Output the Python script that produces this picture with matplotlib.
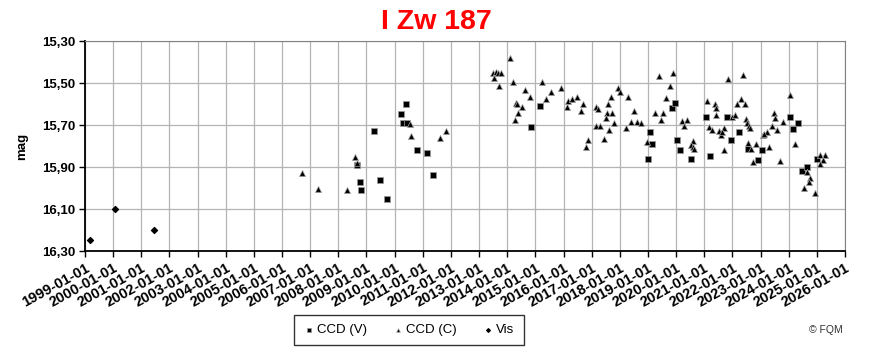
import matplotlib
matplotlib.use("Agg")
import matplotlib.pyplot as plt
import numpy as np

plt.rcParams['font.family'] = ['Liberation Sans', 'DejaVu Sans']

# Datos (epoca en anos decimales, magnitud)
ccd_v_t = [2008.66, 2008.77, 2008.80, 2009.27, 2009.48, 2009.73, 2010.23, 2010.30, 2010.40,
           2010.44, 2010.79, 2011.15, 2011.36, 2014.84, 2015.16, 2019.00, 2019.07, 2019.14,
           2019.85, 2019.96, 2020.03, 2020.14, 2020.53, 2021.06, 2021.20, 2021.81, 2021.95,
           2022.23, 2022.55, 2022.91, 2023.05, 2024.04, 2024.15, 2024.33, 2024.47, 2024.65,
           2025.00]
ccd_v_mag = [15.890, 15.971, 16.010, 15.729, 15.962, 16.052, 15.648, 15.690, 15.600,
             15.690, 15.819, 15.833, 15.938, 15.710, 15.610, 15.862, 15.733, 15.790,
             15.619, 15.595, 15.771, 15.819, 15.862, 15.662, 15.848, 15.662, 15.771,
             15.733, 15.814, 15.867, 15.819, 15.662, 15.719, 15.690, 15.919, 15.900,
             15.862]

ccd_c_t = [2006.71, 2007.28, 2008.31, 2008.59, 2008.66, 2010.55, 2010.58, 2011.61, 2011.82,
           2013.49, 2013.60, 2013.67, 2013.78, 2013.53, 2013.71, 2014.10, 2014.20, 2015.23,
           2014.63, 2014.81, 2015.91, 2015.55, 2015.38, 2014.31, 2014.35, 2014.52, 2014.38,
           2014.28, 2016.16, 2016.30, 2016.48, 2016.12, 2016.69, 2016.62, 2016.87, 2016.80,
           2017.15, 2017.22, 2017.58, 2017.69, 2017.54, 2017.72, 2017.51, 2017.93, 2018.01,
           2018.29, 2017.15, 2017.29, 2017.79, 2017.61, 2017.44, 2018.50, 2018.40, 2018.61,
           2018.75, 2018.22, 2019.39, 2019.89, 2019.78, 2019.64, 2019.25, 2019.53, 2019.46,
           2018.96, 2020.21, 2020.39, 2020.28, 2020.60, 2020.53, 2020.60, 2020.63, 2021.10,
           2021.38, 2021.42, 2021.42, 2021.17, 2021.27, 2021.52, 2021.59, 2021.70, 2021.63,
           2021.70, 2021.84, 2022.37, 2021.98, 2022.09, 2022.16, 2022.30, 2022.45, 2022.48,
           2022.52, 2022.59, 2022.62, 2022.55, 2022.66, 2022.84, 2022.73, 2023.09, 2023.23,
           2023.30, 2024.04, 2023.48, 2023.51, 2023.80, 2023.41, 2023.58, 2023.12, 2024.22,
           2023.69, 2025.11, 2025.29, 2025.22, 2025.11, 2024.65, 2024.75, 2024.72, 2024.54,
           2024.93]
ccd_c_mag = [15.929, 16.005, 16.010, 15.852, 15.881, 15.695, 15.752, 15.762, 15.729,
             15.452, 15.448, 15.452, 15.452, 15.476, 15.514, 15.381, 15.495, 15.495,
             15.533, 15.567, 15.524, 15.543, 15.576, 15.595, 15.600, 15.614, 15.643,
             15.676, 15.586, 15.576, 15.567, 15.614, 15.600, 15.633, 15.771, 15.805,
             15.614, 15.624, 15.600, 15.567, 15.643, 15.643, 15.667, 15.524, 15.543,
             15.567, 15.705, 15.705, 15.690, 15.724, 15.767, 15.633, 15.686, 15.686,
             15.690, 15.714, 15.467, 15.452, 15.514, 15.571, 15.643, 15.643, 15.676,
             15.781, 15.681, 15.676, 15.705, 15.776, 15.795, 15.805, 15.814, 15.586,
             15.600, 15.619, 15.652, 15.710, 15.724, 15.729, 15.748, 15.714, 15.733,
             15.819, 15.481, 15.462, 15.662, 15.652, 15.600, 15.576, 15.600, 15.671,
             15.690, 15.705, 15.714, 15.786, 15.814, 15.790, 15.876, 15.748, 15.733,
             15.805, 15.557, 15.643, 15.667, 15.686, 15.705, 15.724, 15.743, 15.790,
             15.871, 15.843, 15.843, 15.867, 15.886, 15.924, 15.952, 15.971, 16.000,
             16.024]

vis_t = [1999.17, 2000.06, 2001.44]
vis_mag = [16.246, 16.100, 16.199]

years = list(range(1999, 2027))
y_ticks = [15.30, 15.50, 15.70, 15.90, 16.10, 16.30]

fig = plt.figure(figsize=(8.73, 3.53), dpi=100)
ax = fig.add_axes([85 / 873, 102 / 353, 760 / 873, 210 / 353])

ax.scatter(ccd_v_t, ccd_v_mag, marker='s', s=24, color='black', edgecolors='#999999',
           linewidths=0.5, zorder=3, label='CCD (V)')
ax.scatter(ccd_c_t, ccd_c_mag, marker='^', s=20, color='black', edgecolors='#aaaaaa',
           linewidths=0.5, zorder=4, label='CCD (C)')
ax.scatter(vis_t, vis_mag, marker='D', s=9, color='black', zorder=3, label='Vis')

ax.set_xlim(1999, 2026)
ax.set_ylim(16.30, 15.30)
ax.set_xticks(years)
ax.set_xticklabels([f'{y}-01-01' for y in years], rotation=29, ha='right',
                   rotation_mode='anchor', fontsize=10.5, fontweight='bold')
ax.set_yticks(y_ticks)
ax.set_yticklabels([f'{v:.2f}'.replace('.', ',') for v in y_ticks], fontsize=9.5, fontweight='bold')

ax.grid(True, color='#b4b4b4', linewidth=0.9)
ax.set_axisbelow(True)
for side in ['top', 'right']:
    ax.spines[side].set_color('#808080')
for side in ['left', 'bottom']:
    ax.spines[side].set_color('black')
    ax.spines[side].set_linewidth(1.3)
ax.tick_params(axis='both', direction='out', length=4, width=1, pad=3)

ax.set_ylabel('mag', fontsize=9.5, fontweight='bold', labelpad=10)
fig.text(436 / 873, 1 - 22 / 353, 'I Zw 187', ha='center', va='center',
         color='#ff0000', fontsize=20.5, fontweight='bold')

leg = fig.legend(loc='center', bbox_to_anchor=(409 / 873, 1 - 330 / 353), ncol=3,
                 fontsize=9.5, frameon=True, fancybox=False, edgecolor='black',
                 markerscale=0.6, handletextpad=0.2, columnspacing=2.0,
                 borderpad=0.7, handlelength=0.8)
leg.get_frame().set_linewidth(1.0)

fig.text(826 / 873, 1 - 330 / 353, '© FQM', fontsize=7.5, ha='center', va='center', color='#333333')

fig.savefig('out.png', dpi=100)
